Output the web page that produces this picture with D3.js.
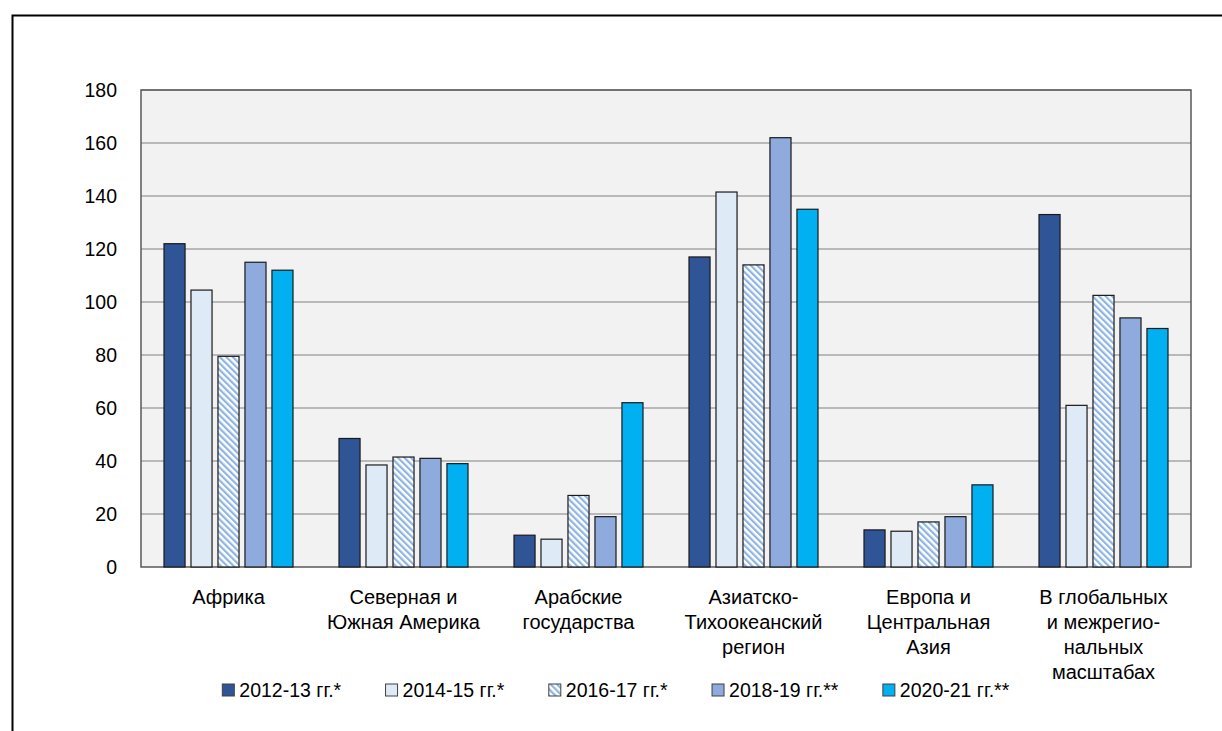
<!DOCTYPE html>
<meta charset="utf-8">
<style>
body { margin: 0; background: #fff; }
svg text { font-family: "Liberation Sans", Arial, sans-serif; fill: #000; }
.tick text { font-size: 19.5px; }
.cat { font-size: 20px; }
.legend text { font-size: 19.5px; }
</style>
<svg id="chart" width="1222" height="731"></svg>
<script src="https://cdn.jsdelivr.net/npm/d3@7/dist/d3.min.js"></script>
<script>
// regions (line breaks as in the original)
var categories = [
  "Африка",
  "Северная и\nЮжная Америка",
  "Арабские\nгосударства",
  "Азиатско-\nТихоокеанский\nрегион",
  "Европа и\nЦентральная\nАзия",
  "В глобальных\nи межрегио-\nнальных\nмасштабах"
];
var seriesNames = ["2012-13 гг.*", "2014-15 гг.*", "2016-17 гг.*", "2018-19 гг.**", "2020-21 гг.**"];
var s2012 = [122, 48.5, 12, 117, 14, 133];
var s2014 = [104.5, 38.5, 10.5, 141.5, 13.5, 61];
var s2016 = [79.5, 41.5, 27, 114, 17, 102.5];
var s2018 = [115, 41, 19, 162, 19, 94];
var s2020 = [112, 39, 62, 135, 31, 90];
var yTicks = [0, 20, 40, 60, 80, 100, 120, 140, 160, 180];

var series = [s2012, s2014, s2016, s2018, s2020];
var fills = ["#2f5597", "#deebf7", "url(#stripes)", "#8faadc", "#00b0f0"];

var svg = d3.select("#chart");

// outer frame (cut off on right and bottom like the picture)
svg.append("rect")
    .attr("x", 12.5).attr("y", 15.5)
    .attr("width", 1260).attr("height", 760)
    .attr("fill", "none").attr("stroke", "#000").attr("stroke-width", 2);

var defs = svg.append("defs");
var pat = defs.append("pattern")
    .attr("id", "stripes")
    .attr("patternUnits", "userSpaceOnUse")
    .attr("width", 4.6).attr("height", 4.6)
    .attr("patternTransform", "rotate(-45)");
pat.append("rect").attr("width", 4.6).attr("height", 4.6).attr("fill", "#fff");
pat.append("rect").attr("width", 2.2).attr("height", 4.6).attr("fill", "#8db4e2");

var plotL = 141, plotR = 1191, plotT = 90, plotB = 567;

var x = d3.scaleBand().domain(d3.range(categories.length)).range([plotL, plotR]);
var xi = d3.scaleBand().domain(d3.range(series.length)).range([23, 152]).paddingInner(0.22);
var y = d3.scaleLinear().domain([0, 180]).range([plotB, plotT]);

// plot area
svg.append("rect")
    .attr("x", plotL).attr("y", plotT)
    .attr("width", plotR - plotL).attr("height", plotB - plotT)
    .attr("fill", "#f2f2f2");

// gridlines
svg.append("g").selectAll("line")
  .data(yTicks.slice(1))
  .enter().append("line")
    .attr("x1", plotL).attr("x2", plotR)
    .attr("y1", function(d) { return y(d); })
    .attr("y2", function(d) { return y(d); })
    .attr("stroke", "#a6a6a6").attr("stroke-width", 1.5);

svg.append("rect")
    .attr("x", plotL).attr("y", plotT)
    .attr("width", plotR - plotL).attr("height", plotB - plotT)
    .attr("fill", "none").attr("stroke", "#595959").attr("stroke-width", 1.5);

// y axis
var yAxis = svg.append("g")
    .attr("transform", "translate(" + plotL + ",0)")
    .call(d3.axisLeft(y).tickValues(yTicks).tickSize(0).tickPadding(24));
yAxis.select(".domain").remove();
yAxis.selectAll(".tick text").attr("fill", "#000");

// bars
var groups = svg.append("g").selectAll("g")
  .data(categories)
  .enter().append("g")
    .attr("transform", function(d, i) { return "translate(" + x(i) + ",0)"; });

groups.selectAll("rect")
  .data(function(d, i) { return series.map(function(s, k) { return { k: k, v: s[i] }; }); })
  .enter().append("rect")
    .attr("x", function(d) { return xi(d.k); })
    .attr("width", xi.bandwidth())
    .attr("y", function(d) { return y(d.v); })
    .attr("height", function(d) { return y(0) - y(d.v); })
    .attr("fill", function(d) { return fills[d.k]; })
    .attr("stroke", "#1a1a1a").attr("stroke-width", 1.2);

// category labels
svg.append("g").selectAll("text")
  .data(categories)
  .enter().append("text")
    .attr("class", "cat")
    .attr("text-anchor", "middle")
    .attr("x", function(d, i) { return x(i) + x.bandwidth() / 2; })
    .attr("y", 604)
    .each(function(d) {
      var t = d3.select(this);
      d.split("\n").forEach(function(line, j) {
        t.append("tspan")
          .attr("x", t.attr("x"))
          .attr("dy", j === 0 ? 0 : 25)
          .text(line);
      });
    });

// legend
var legend = svg.append("g").attr("class", "legend");
var items = legend.selectAll("g")
  .data(seriesNames)
  .enter().append("g");
items.append("rect")
    .attr("width", 12).attr("height", 12)
    .attr("y", -13)
    .attr("fill", function(d, i) { return fills[i]; })
    .attr("stroke", "#404040").attr("stroke-width", 1);
items.append("text")
    .attr("x", 17)
    .text(function(d) { return d; });

var gap = 44, pos = 0;
items.each(function() {
  var w = this.getBBox().width;
  d3.select(this).attr("transform", "translate(" + pos + ",697)");
  pos += w + gap;
});
legend.attr("transform", "translate(" + (616 - (pos - gap) / 2) + ",0)");
</script>
